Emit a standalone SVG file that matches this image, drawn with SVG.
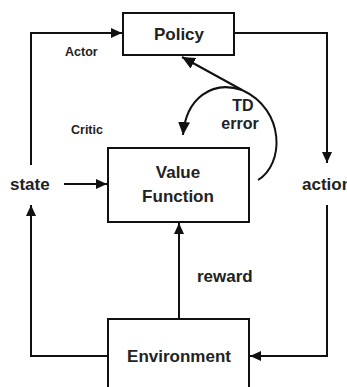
<svg xmlns="http://www.w3.org/2000/svg" width="347" height="387" viewBox="0 0 347 387">
  <style>
    .box { fill: #fff; stroke: #111; stroke-width: 2; }
    .ln { fill: none; stroke: #111; stroke-width: 2; }
    text { font-family: "Liberation Sans", Arial, sans-serif; font-weight: bold; fill: #222; }
    .lg { font-size: 17px; }
    .md { font-size: 16px; }
    .sm { font-size: 12.5px; }
  </style>
  <defs>
    <marker id="ah" markerUnits="userSpaceOnUse" markerWidth="12" markerHeight="10" refX="11" refY="5" orient="auto">
      <path d="M0,0 L11,5 L0,10 Z" fill="#111"/>
    </marker>
    <marker id="ahb" markerUnits="userSpaceOnUse" markerWidth="14" markerHeight="12" refX="13" refY="6" orient="auto">
      <path d="M0,0 L13,6 L0,12 Z" fill="#111"/>
    </marker>
  </defs>
  <g id="connectors">
    <path class="ln" d="M31,165 V33 H122" marker-end="url(#ah)"/>
    <path class="ln" d="M234,33 H327 V163" marker-end="url(#ah)"/>
    <path class="ln" d="M64,184 H107" marker-end="url(#ah)"/>
    <path class="ln" d="M108,356 H31 V205" marker-end="url(#ah)"/>
    <path class="ln" d="M327,205 V356 H250" marker-end="url(#ah)"/>
    <path class="ln" d="M179,319 V223" marker-end="url(#ah)"/>
    <path class="ln" d="M258,180 C284,165 286,110 242,90 L182,57" marker-end="url(#ahb)"/>
    <path class="ln" d="M242,90 C212,80 186,98 183,135" marker-end="url(#ahb)"/>
  </g>
  <g id="policy">
    <rect class="box" x="123" y="13" width="111" height="42"/>
    <text class="lg" x="179" y="40" text-anchor="middle">Policy</text>
  </g>
  <g id="value-function">
    <rect class="box" x="108" y="148" width="141" height="74"/>
    <text class="lg" x="178" y="178" text-anchor="middle">Value</text>
    <text class="lg" x="178" y="202" text-anchor="middle">Function</text>
  </g>
  <g id="environment">
    <rect class="box" x="108" y="319" width="141" height="80"/>
    <text class="lg" x="179" y="362" text-anchor="middle">Environment</text>
  </g>
  <g id="labels">
    <text class="sm" x="65" y="56">Actor</text>
    <text class="sm" x="71" y="134">Critic</text>
    <text class="lg" x="10" y="190">state</text>
    <text class="lg" x="302" y="190">action</text>
    <text class="lg" x="197" y="282">reward</text>
    <text class="md" x="243" y="111" text-anchor="middle">TD</text>
    <text class="md" x="240" y="129" text-anchor="middle">error</text>
  </g>
</svg>
